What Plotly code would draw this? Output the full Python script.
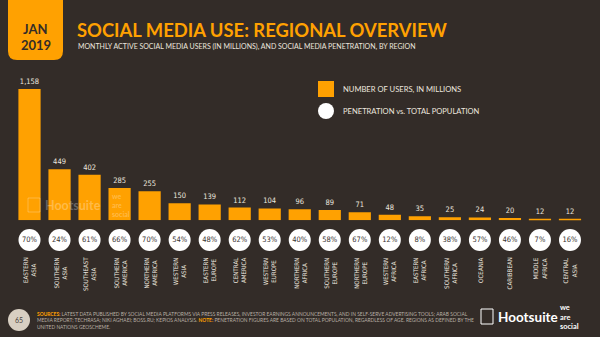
import plotly.graph_objects as go

# ---- data ----
regions = ["EASTERN<br>ASIA", "SOUTHERN<br>ASIA", "SOUTHEAST<br>ASIA", "SOUTHERN<br>AMERICA",
           "NORTHERN<br>AMERICA", "WESTERN<br>ASIA", "EASTERN<br>EUROPE", "CENTRAL<br>AMERICA",
           "WESTERN<br>EUROPE", "NORTHERN<br>AFRICA", "SOUTHERN<br>EUROPE", "NORTHERN<br>EUROPE",
           "WESTERN<br>AFRICA", "EASTERN<br>AFRICA", "SOUTHERN<br>AFRICA", "OCEANIA",
           "CARIBBEAN", "MIDDLE<br>AFRICA", "CENTRAL<br>ASIA"]
users_millions = [1158, 449, 402, 285, 255, 150, 139, 112, 104, 96, 89, 71, 48, 35, 25, 24, 20, 12, 12]
penetration_pct = [70, 24, 61, 66, 70, 54, 48, 62, 53, 40, 58, 67, 12, 8, 38, 57, 46, 7, 16]

BG = "#332c28"
ORANGE = "#ffa101"
TXT = "#ece6df"
NARROW = "Liberation Sans Narrow, DejaVu Sans Condensed, Arial Narrow, sans-serif"

W, H = 600, 337
def py(px):  # pixel from top -> paper y
    return (H - px) / H

x_idx = list(range(len(regions)))

fig = go.Figure()
fig.add_trace(go.Bar(
    x=x_idx, y=users_millions,
    marker=dict(color=ORANGE, line=dict(width=0)),
    text=[f"{v:,}" for v in users_millions], textposition="outside",
    textfont=dict(family=NARROW, size=7.5, color=TXT),
    cliponaxis=False, width=0.74, showlegend=False, hoverinfo="skip",
))
fig.add_trace(go.Scatter(
    x=x_idx, y=[0.83] * len(x_idx), yaxis="y2", mode="markers+text",
    marker=dict(size=22, color="white", line=dict(width=0)),
    text=[f"{p}%" for p in penetration_pct], textposition="middle center",
    textfont=dict(family=NARROW, size=7.5, color="#3a3330"),
    cliponaxis=False, showlegend=False, hoverinfo="skip",
))

base_px = 220.2
top_px = 72.9
fig.update_layout(
    width=W, height=H, margin=dict(l=0, r=0, t=0, b=0),
    paper_bgcolor=BG, plot_bgcolor=BG,
    xaxis=dict(domain=[14.5 / W, 585 / W], range=[-0.5, len(regions) - 0.5],
               visible=False, fixedrange=True),
    yaxis=dict(domain=[py(base_px), py(top_px)], range=[0, 1300], visible=False),
    yaxis2=dict(domain=[0, py(base_px)], range=[0, 1], visible=False),
    bargap=0.26,
)

ann = []
def note(xpx, ypx, text, size, color, family="Lato", xanchor="left", yanchor="middle", **kw):
    ann.append(dict(x=xpx / W, y=py(ypx), xref="paper", yref="paper", text=text,
                    showarrow=False, xanchor=xanchor, yanchor=yanchor,
                    font=dict(family=family, size=size, color=color), **kw))

# category labels
for i, r in enumerate(regions):
    ann.append(dict(x=i, y=py(255.5), xref="x", yref="paper", text=r, textangle=-90,
                    showarrow=False, xanchor="center", yanchor="top",
                    font=dict(family=NARROW, size=6.2, color=TXT)))

shapes = []
# orange date tab
shapes.append(dict(type="path", xref="paper", yref="paper",
                   path=f"M {8/W} {py(-2)} L {63/W} {py(-2)} L {63/W} {py(51)} "
                        f"Q {63/W} {py(60)} {54/W} {py(60)} L {17/W} {py(60)} "
                        f"Q {8/W} {py(60)} {8/W} {py(51)} Z",
                   fillcolor=ORANGE, line=dict(width=0), layer="below"))
note(35.5, 29, "<b>JAN</b>", 13, BG, xanchor="center")
note(35.5, 45, "<b>2019</b>", 13, BG, xanchor="center")
# title
note(75, 30, "<b>SOCIAL MEDIA USE: REGIONAL OVERVIEW</b>", 18.4, ORANGE)
note(76, 46.5, "MONTHLY ACTIVE SOCIAL MEDIA USERS (IN MILLIONS), AND SOCIAL MEDIA PENETRATION, BY REGION",
     7.0, TXT)
# legend
shapes.append(dict(type="rect", xref="paper", yref="paper", x0=318 / W, x1=334 / W,
                   y0=py(97), y1=py(81), fillcolor=ORANGE, line=dict(width=0)))
shapes.append(dict(type="circle", xref="paper", yref="paper", x0=318 / W, x1=334 / W,
                   y0=py(119), y1=py(103), fillcolor="white", line=dict(width=0)))
note(341, 89, "NUMBER OF USERS, IN MILLIONS", 7.6, TXT)
note(341, 111, "PENETRATION vs. TOTAL POPULATION", 7.6, TXT)
# watermark
WM = "rgba(255,255,255,0.28)"
note(43, 205, "<b>Hootsuite</b>", 12.5, WM)
note(110, 205, "<b>we<br>are<br>social</b>", 7.0, WM, align="left")
shapes.append(dict(type="rect", xref="paper", yref="paper", x0=28 / W, x1=40 / W,
                   y0=py(212), y1=py(198), line=dict(color="rgba(255,255,255,0.25)", width=1)))
# footer
shapes.append(dict(type="circle", xref="paper", yref="paper", x0=8 / W, x1=30 / W,
                   y0=py(331), y1=py(309), fillcolor="#d8cfc2", line=dict(width=0)))
note(19, 320, "65", 7, "#4a423c", xanchor="center")
src = ("<b><span style='color:#ffa101'>SOURCES:</span></b> LATEST DATA PUBLISHED BY SOCIAL MEDIA PLATFORMS VIA PRESS RELEASES, "
       "INVESTOR EARNINGS ANNOUNCEMENTS, AND IN SELF-SERVE ADVERTISING TOOLS; ARAB SOCIAL<br>"
       "MEDIA REPORT; TECHRASA; NIKI AGHAEI; BOSS.RU; KEPIOS ANALYSIS. "
       "<b><span style='color:#ffa101'>NOTE:</span></b> PENETRATION FIGURES ARE BASED ON TOTAL POPULATION, "
       "REGARDLESS OF AGE. REGIONS AS DEFINED BY THE<br>UNITED NATIONS GEOSCHEME.")
note(35, 309, src, 4.9, "#b9b0a6", yanchor="top", align="left")
# brand logo
shapes.append(dict(type="rect", xref="paper", yref="paper", x0=481 / W, x1=493 / W,
                   y0=py(324), y1=py(309), line=dict(color="white", width=1)))
note(496, 316.5, "<b>Hootsuite</b>", 13.5, "white")
note(558, 317, "<b>we<br>are<br>social</b>", 7.4, "white", align="left")

fig.update_layout(annotations=ann, shapes=shapes)
fig.write_html("out.html")
